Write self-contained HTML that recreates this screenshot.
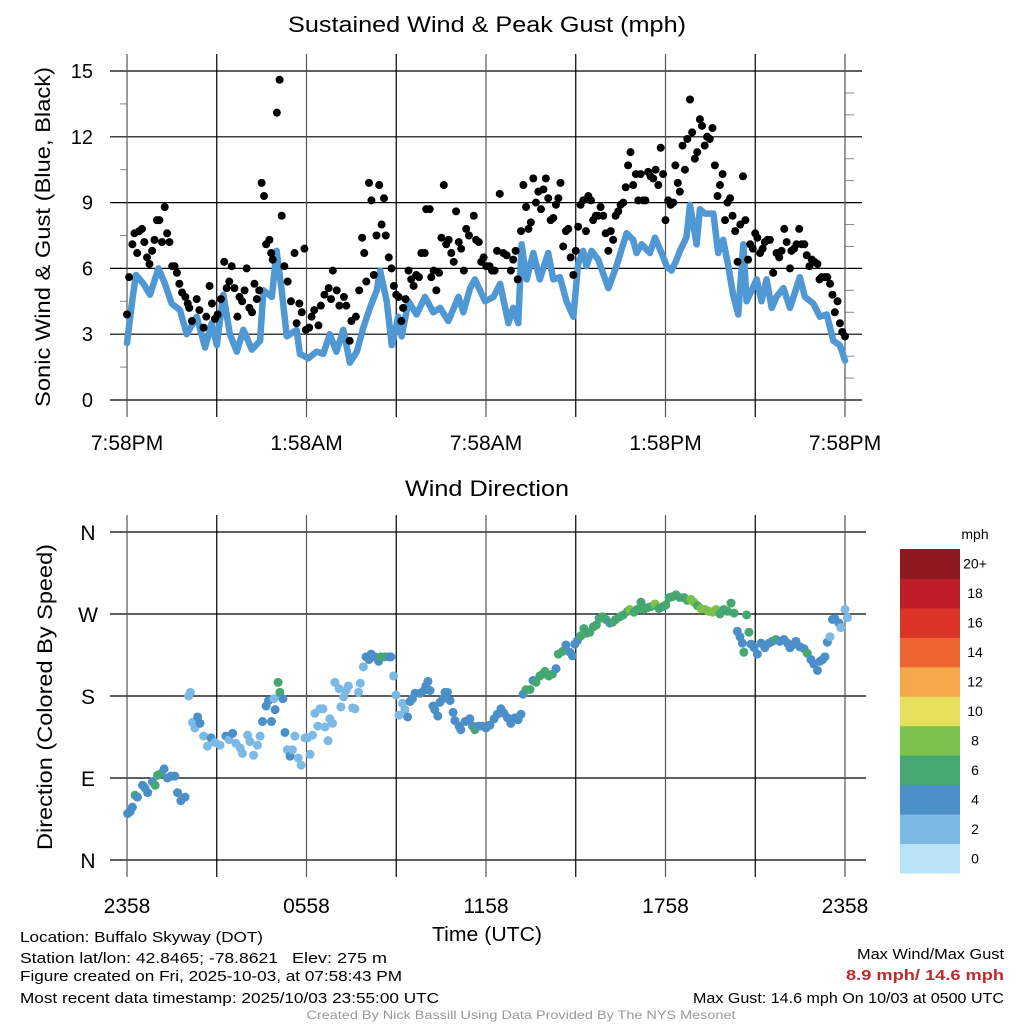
<!DOCTYPE html>
<html><head><meta charset="utf-8"><title>Wind chart</title>
<style>
html,body{margin:0;padding:0;background:#fff;}
svg{display:block;font-family:"Liberation Sans",Arial,sans-serif;}
</style></head>
<body>
<svg id="chart" width="1024" height="1024" viewBox="0 0 1024 1024" xmlns="http://www.w3.org/2000/svg">
<rect x="0" y="0" width="1024" height="1024" fill="#fff"/>
<g id="top-grid"></g>
<g id="top-marks"></g>
<g id="bot-grid"></g>
<g id="bot-marks"></g>
<g id="cbar"></g>
<text x="487" y="32" font-size="22" text-anchor="middle" textLength="398" lengthAdjust="spacingAndGlyphs">Sustained Wind &amp; Peak Gust (mph)</text>
<text transform="translate(50,237) rotate(-90)" font-size="21" text-anchor="middle" textLength="340" lengthAdjust="spacingAndGlyphs">Sonic Wind &amp; Gust (Blue, Black)</text>
<text x="487" y="496" font-size="22" text-anchor="middle" textLength="164" lengthAdjust="spacingAndGlyphs">Wind Direction</text>
<text transform="translate(52,697) rotate(-90)" font-size="21" text-anchor="middle" textLength="306" lengthAdjust="spacingAndGlyphs">Direction (Colored By Speed)</text>
<text x="487" y="941" font-size="20" text-anchor="middle" textLength="110" lengthAdjust="spacingAndGlyphs">Time (UTC)</text>
<g font-size="15">
<text x="20" y="942" textLength="243" lengthAdjust="spacingAndGlyphs">Location: Buffalo Skyway (DOT)</text>
<text x="20" y="963" textLength="258" lengthAdjust="spacingAndGlyphs">Station lat/lon: 42.8465; -78.8621</text>
<text x="292" y="963" textLength="95" lengthAdjust="spacingAndGlyphs">Elev: 275 m</text>
<text x="20" y="981" textLength="382" lengthAdjust="spacingAndGlyphs">Figure created on Fri, 2025-10-03, at 07:58:43 PM</text>
<text x="20" y="1003" textLength="419" lengthAdjust="spacingAndGlyphs">Most recent data timestamp: 2025/10/03 23:55:00 UTC</text>
</g>
<g font-size="15" text-anchor="end">
<text x="1004" y="959" textLength="147" lengthAdjust="spacingAndGlyphs">Max Wind/Max Gust</text>
<text x="1004" y="980" fill="#c1272d" font-weight="bold" textLength="158" lengthAdjust="spacingAndGlyphs">8.9 mph/ 14.6 mph</text>
<text x="1004" y="1003" textLength="311" lengthAdjust="spacingAndGlyphs">Max Gust: 14.6 mph On 10/03 at 0500 UTC</text>
</g>
<text x="521" y="1019" font-size="12" fill="#999" text-anchor="middle" textLength="429" lengthAdjust="spacingAndGlyphs">Created By Nick Bassill Using Data Provided By The NYS Mesonet</text>
</svg>
<script>
// ---------- data ----------
const topTickLabels = ["7:58PM","1:58AM","7:58AM","1:58PM","7:58PM"];
const botTickLabels = ["2358","0558","1158","1758","2358"];
const speedTicks = [0,3,6,9,12,15];
const dirLabels = ["N","E","S","W","N"];
const dirTicks = [0,90,180,270,360];
const windHours = [0,0.2,0.3,0.55,0.77,1.05,1.27,1.49,1.77,2.0,2.33,2.61,2.83,3.0,3.22,3.44,3.67,3.89,4.17,4.45,4.56,4.84,5.0,5.17,5.34,5.67,5.78,6.06,6.34,6.56,6.78,7.0,7.23,7.45,7.68,7.9,8.12,8.35,8.46,8.68,8.85,9.07,9.18,9.41,9.68,9.96,10.24,10.47,10.74,11.08,11.24,11.47,11.63,11.97,12.25,12.47,12.75,12.91,13.08,13.19,13.36,13.58,13.8,14.08,14.25,14.47,14.69,14.92,15.08,15.25,15.36,15.53,15.75,16.09,16.36,16.7,16.92,17.03,17.2,17.48,17.65,17.87,18.04,18.2,18.37,18.48,18.7,18.82,19.04,19.15,19.32,19.6,19.76,19.93,20.1,20.26,20.43,20.6,20.71,20.88,21.05,21.21,21.38,21.55,21.71,21.94,22.16,22.49,22.66,22.94,23.16,23.39,23.61,23.83,24.0];
const windSpeed = [2.6,4.8,5.7,5.3,4.8,6.0,5.3,4.4,4.1,3.0,3.8,2.4,3.5,2.5,4.8,3.0,2.2,3.2,2.3,2.7,5.0,4.7,6.8,5.0,2.9,3.2,2.1,1.9,2.2,2.1,3.0,2.2,3.2,1.7,2.2,3.3,4.2,5.0,5.9,4.5,2.5,3.8,2.9,4.5,3.9,4.7,4.0,4.2,3.6,4.7,4.0,5.1,5.5,4.5,4.7,5.3,3.5,4.2,3.5,7.1,5.5,6.7,5.5,6.7,5.5,5.6,4.5,3.8,6.2,6.8,6.1,6.8,6.4,5.1,6.1,7.6,7.3,6.7,7.1,6.7,7.4,6.7,6.1,5.9,6.4,6.8,7.4,8.9,7.1,8.7,8.5,8.5,6.7,7.3,6.1,4.8,3.9,7.1,4.5,5.0,5.5,4.5,5.5,4.2,4.7,5.1,4.2,5.6,4.7,4.4,3.8,3.9,2.7,2.5,1.8];
const gustHours = [0,0.07,0.18,0.25,0.34,0.41,0.5,0.58,0.67,0.75,0.84,0.92,1.0,1.08,1.17,1.26,1.34,1.42,1.51,1.59,1.67,1.75,1.84,1.95,2.03,2.08,2.17,2.33,2.42,2.56,2.65,2.76,2.84,2.94,3.03,3.14,3.25,3.33,3.42,3.5,3.59,3.69,3.76,3.85,3.93,4.0,4.09,4.18,4.26,4.34,4.42,4.5,4.58,4.65,4.76,4.82,4.87,5.01,5.1,5.17,5.26,5.37,5.48,5.6,5.67,5.76,5.84,5.93,5.98,6.09,6.17,6.26,6.4,6.48,6.6,6.74,6.82,6.88,7.01,7.1,7.25,7.33,7.44,7.5,7.65,7.76,7.86,7.93,8.0,8.09,8.17,8.25,8.34,8.43,8.51,8.59,8.65,8.75,8.84,8.92,9.0,9.08,9.17,9.23,9.31,9.41,9.5,9.58,9.67,9.76,9.84,9.95,10.0,10.12,10.17,10.25,10.34,10.43,10.51,10.59,10.67,10.75,10.84,10.92,11.0,11.09,11.17,11.26,11.34,11.43,11.59,11.67,11.76,11.84,11.92,12.01,12.12,12.2,12.29,12.37,12.46,12.58,12.69,12.83,12.91,12.99,13.06,13.17,13.25,13.34,13.42,13.5,13.58,13.67,13.75,13.84,13.92,14.0,14.08,14.16,14.25,14.34,14.42,14.49,14.58,14.67,14.75,14.83,14.92,15.0,15.08,15.16,15.25,15.34,15.42,15.51,15.58,15.67,15.75,15.83,15.92,16.0,16.09,16.17,16.25,16.33,16.42,16.5,16.59,16.67,16.75,16.83,16.92,17.01,17.09,17.17,17.26,17.33,17.42,17.5,17.59,17.67,17.76,17.84,17.92,18.0,18.09,18.17,18.26,18.33,18.41,18.48,18.57,18.65,18.73,18.82,18.89,18.98,19.06,19.15,19.22,19.31,19.39,19.48,19.57,19.65,19.74,19.82,19.91,19.99,20.07,20.16,20.24,20.33,20.41,20.5,20.59,20.67,20.76,20.83,20.92,21.0,21.07,21.16,21.25,21.32,21.41,21.49,21.6,21.71,21.8,21.88,21.97,22.05,22.16,22.21,22.3,22.38,22.47,22.55,22.64,22.72,22.81,22.89,22.98,23.08,23.15,23.22,23.34,23.41,23.5,23.58,23.66,23.75,23.83,23.91,24.0];
const gustSpeed = [3.9,5.6,7.1,7.6,6.7,7.7,7.8,7.2,6.5,6.2,6.8,7.3,8.2,8.2,7.2,8.8,7.6,7.2,6.1,6.1,5.8,5.3,4.9,4.7,4.4,4.2,3.6,4.6,4.1,3.3,3.8,5.2,4.4,3.7,3.9,4.6,6.3,5.1,5.4,6.1,5.1,3.8,4.7,4.5,5.0,6.0,4.2,4.0,5.3,4.6,5.0,9.9,9.3,7.1,7.3,6.7,6.4,13.1,14.6,8.4,6.1,5.4,4.5,6.7,3.5,4.4,4.0,6.9,3.2,3.3,3.8,4.1,3.4,4.3,4.8,5.1,4.6,5.9,5.0,4.3,4.7,4.3,2.7,3.6,3.8,5.0,7.4,6.7,5.4,9.9,9.1,5.7,7.5,9.8,8.0,9.2,7.5,6.5,6.0,5.2,4.8,4.7,3.6,4.2,4.6,5.9,5.5,5.2,5.7,5.6,6.7,6.7,8.7,8.7,5.6,5.9,5.0,5.8,7.4,9.8,7.1,7.3,6.7,6.3,8.6,7.2,6.9,5.9,7.8,7.5,8.4,7.3,7.2,6.3,6.5,6.1,6.1,5.9,5.9,6.8,9.4,6.7,6.6,5.9,6.4,6.8,5.5,7.7,9.8,8.8,7.8,8.1,10.1,9.0,9.5,8.7,9.6,10.1,9.2,8.2,8.3,8.9,9.2,9.9,7.0,7.7,7.8,6.5,5.7,6.8,7.9,8.9,9.1,7.7,9.3,9.1,8.2,8.4,8.4,8.8,8.4,7.6,6.8,7.7,7.3,8.4,8.6,8.9,9.0,9.7,10.7,11.3,9.8,10.3,9.1,10.3,9.1,9.1,10.4,10.2,10.1,10.5,9.8,11.5,10.3,8.2,9.1,8.9,9.0,10.7,9.9,9.5,11.6,10.5,11.9,13.7,12.2,11.0,11.3,12.8,12.5,11.6,12.0,11.9,12.4,10.7,9.3,9.8,10.3,8.2,9.0,9.2,8.4,7.7,6.3,8.0,10.2,8.2,6.4,7.1,6.9,7.6,7.4,6.7,6.9,7.2,7.3,7.3,5.8,6.7,6.5,6.8,7.8,7.2,6.0,6.8,6.9,7.1,7.8,7.1,7.1,6.6,6.1,6.4,6.3,6.2,5.5,5.6,5.6,5.6,5.3,4.8,4.0,4.5,3.5,3.1,2.9];
const dirHours = [0.02,0.10,0.18,0.27,0.35,0.52,0.60,0.69,0.85,0.94,1.02,1.14,1.24,1.35,1.47,1.60,1.69,1.80,1.94,2.06,2.12,2.19,2.27,2.36,2.44,2.56,2.69,2.81,2.94,3.11,3.31,3.41,3.53,3.64,3.78,3.86,4.03,4.11,4.23,4.36,4.45,4.53,4.65,4.73,4.83,4.91,4.95,5.05,5.11,5.21,5.28,5.36,5.45,5.53,5.61,5.72,5.82,5.95,6.03,6.12,6.20,6.28,6.38,6.45,6.55,6.62,6.72,6.78,6.87,6.95,7.09,7.15,7.24,7.32,7.40,7.54,7.62,7.74,7.80,7.90,7.99,8.09,8.16,8.29,8.41,8.49,8.62,8.76,8.82,8.91,8.99,9.09,9.21,9.29,9.38,9.46,9.54,9.63,9.79,9.93,9.99,10.06,10.13,10.23,10.29,10.39,10.46,10.56,10.63,10.71,10.80,10.90,10.96,11.10,11.16,11.30,11.46,11.55,11.63,11.75,11.88,12.00,12.13,12.27,12.38,12.50,12.60,12.72,12.83,12.97,13.07,13.17,13.24,13.34,13.47,13.57,13.67,13.80,13.89,13.97,14.10,14.22,14.34,14.42,14.56,14.67,14.81,14.89,14.97,15.06,15.17,15.27,15.36,15.47,15.59,15.69,15.78,15.89,16.01,16.14,16.23,16.34,16.48,16.59,16.73,16.81,16.95,17.06,17.18,17.28,17.40,17.51,17.65,17.78,17.90,18.01,18.12,18.23,18.35,18.48,18.62,18.73,18.85,18.95,19.07,19.18,19.32,19.45,19.57,19.69,19.82,19.95,20.07,20.19,20.29,20.40,20.49,20.57,20.62,20.71,20.79,20.86,20.96,21.07,21.19,21.32,21.46,21.57,21.69,21.82,21.96,22.08,22.16,22.24,22.36,22.49,22.63,22.74,22.86,22.96,23.08,23.16,23.25,23.33,23.41,23.50,23.58,23.66,23.80,23.86,24.00,24.08];
const dirDegrees = [51,53,58,71,69,82,79,74,86,82,93,95,100,90,92,92,74,65,69,180,184,151,145,157,150,136,125,134,129,126,136,132,139,128,123,117,137,130,115,126,136,152,169,175,152,177,165,195,184,177,140,121,114,121,136,112,104,134,134,116,137,161,147,166,166,146,131,155,150,195,188,168,179,186,191,167,166,184,194,212,223,220,226,223,218,223,223,223,223,202,181,159,172,165,157,174,177,183,183,186,191,196,186,169,165,158,173,177,184,184,175,162,153,147,143,152,155,147,143,147,147,145,148,155,160,166,161,156,150,156,154,160,182,187,187,197,195,202,204,207,202,204,210,226,229,236,228,224,237,241,246,254,249,250,256,258,265,267,264,260,261,264,267,269,273,275,272,275,283,275,277,278,281,276,278,280,288,289,291,288,288,285,286,283,279,276,275,273,272,275,270,275,273,282,271,251,245,238,228,269,250,237,233,226,238,233,238,240,242,240,242,238,233,236,240,234,232,227,220,215,208,218,220,223,239,245,264,265,260,255,275,266];
const dirSpeed = [5,5,5,7,5,5,5,5,5,7,7,7,5,5,5,5,5,5,5,3,3,3,3,5,5,3,3,5,3,3,5,3,5,3,3,3,3,3,3,3,3,5,5,5,5,3,5,7,7,5,5,3,5,3,3,3,3,3,3,3,3,3,3,3,3,3,3,3,3,3,3,3,3,3,3,3,3,3,3,3,5,5,5,5,5,7,7,5,5,3,3,3,3,3,5,5,5,5,5,5,5,5,5,5,5,5,5,5,5,5,5,5,5,5,5,5,5,5,7,5,5,5,5,5,5,5,5,5,5,5,5,5,5,7,7,5,7,7,7,7,7,7,5,7,7,5,5,5,5,5,7,7,7,7,7,7,7,7,7,5,7,7,7,7,7,9,7,7,7,7,7,7,9,7,7,7,7,7,7,7,7,7,9,9,7,9,9,9,9,9,7,7,7,7,7,5,5,5,7,7,7,5,5,5,5,5,5,5,7,5,5,5,5,5,5,5,5,7,5,5,5,5,5,5,5,3,5,5,5,3,3,3,3];
const cbarLabels = ["0","2","4","6","8","10","12","14","16","18","20+"];
const cbarColors = ["#b9e4f8","#7cb9e5","#4a8fc7","#45a771","#7ac24b","#e5e05b","#f4a84a","#ee6531","#dc3329","#bd1e27","#8e1a1f"];

// ---------- scales ----------
const NS = "http://www.w3.org/2000/svg";
function mk(tag, attrs, parent){const e=document.createElementNS(NS,tag);for(const k in attrs)e.setAttribute(k,attrs[k]);parent.appendChild(e);return e;}
const X0=127, X1=845;
function xScale(h){return X0 + h*(X1-X0)/24;}
function ySpeed(v){return 400 - v*(400-71)/15;}
function yDir(d){return 860 - d*(860-532)/360;}
function colorFor(s){let i=Math.min(10,Math.max(0,Math.floor(s/2)));return cbarColors[i];}

// ---------- top grid ----------
const tg=document.getElementById('top-grid');
speedTicks.forEach(v=>{
  const l=mk('line',{x1:110,x2:862,y1:ySpeed(v),y2:ySpeed(v),stroke:'#000','stroke-width':1.2},tg);
  
  
  const t=mk('text',{x:93,y:ySpeed(v)+7,'font-size':20,'text-anchor':'end'},tg);
  t.textContent=v;
  
  
});
for(let v=1.5;v<15;v+=3){
  const m=mk('line',{x1:120,x2:127,y1:ySpeed(v),y2:ySpeed(v),stroke:'#888','stroke-width':1},tg);
  
  
}
for(let v=1;v<15;v++){ if(v%3===0)continue;
  const m=mk('line',{x1:845,x2:854,y1:ySpeed(v),y2:ySpeed(v),stroke:'#888','stroke-width':1},tg);
  
  
}
for(let i=0;i<=8;i++){
  const x=xScale(i*3);
  const l=mk('line',{x1:x,x2:x,y1:54,y2:417,stroke:i%2?'#000':'#555','stroke-width':1.2},tg);
  
  
}
topTickLabels.forEach((s,i)=>{
  const t=mk('text',{x:xScale(i*6),y:450,'font-size':21,'text-anchor':'middle'},tg);
  t.textContent=s;
  
  
});

// ---------- top marks ----------
const tm=document.getElementById('top-marks');
const pts=windHours.map((h,i)=>xScale(h).toFixed(1)+','+ySpeed(windSpeed[i]).toFixed(1)).join(' ');
const wl=mk('polyline',{points:pts,fill:'none',stroke:'#4f98d3','stroke-width':6.5,'stroke-linejoin':'round','stroke-linecap':'round'},tm);


gustHours.forEach((h,i)=>{
  const c=mk('circle',{cx:xScale(h),cy:ySpeed(gustSpeed[i]),r:4,fill:'#000'},tm);
  
  
});

// ---------- bottom grid ----------
const bg=document.getElementById('bot-grid');
dirTicks.forEach((d,i)=>{
  const l=mk('line',{x1:110,x2:866,y1:yDir(d),y2:yDir(d),stroke:'#000','stroke-width':1.2},bg);
  
  
  const t=mk('text',{x:88,y:yDir(d)+8,'font-size':21,'text-anchor':'middle'},bg);
  t.textContent=dirLabels[i];
  
  
});
for(let i=0;i<=8;i++){
  const x=xScale(i*3);
  const l=mk('line',{x1:x,x2:x,y1:515,y2:877,stroke:i%2?'#000':'#555','stroke-width':1.2},bg);
  
  
}
botTickLabels.forEach((s,i)=>{
  const t=mk('text',{x:xScale(i*6),y:913,'font-size':21,'text-anchor':'middle'},bg);
  t.textContent=s;
  
  
});

// ---------- direction marks ----------
const bm=document.getElementById('bot-marks');
dirHours.forEach((h,i)=>{
  const c=mk('circle',{cx:xScale(h),cy:yDir(dirDegrees[i]),r:4.5,fill:colorFor(dirSpeed[i])},bm);
  
  
});

// ---------- colorbar ----------
const cb=document.getElementById('cbar');
const ct=mk('text',{x:975,y:539,'font-size':14,'text-anchor':'middle'},cb);
ct.textContent='mph';


const boxH=(873-549)/11;
cbarColors.forEach((col,i)=>{
  const y=873-(i+1)*boxH;
  const r=mk('rect',{x:900,y:y,width:60,height:boxH+0.5,fill:col},cb);
  
  
  const t=mk('text',{x:975,y:y+boxH/2+5,'font-size':14,'text-anchor':'middle'},cb);
  t.textContent=cbarLabels[i];
  
  
});
</script>
</body></html>
